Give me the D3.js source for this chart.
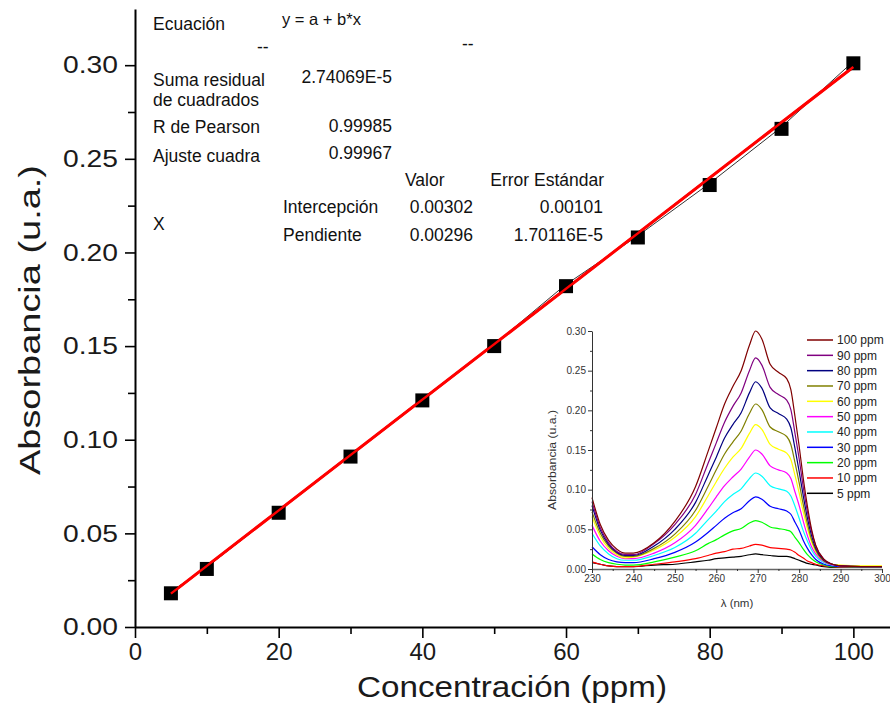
<!DOCTYPE html>
<html><head><meta charset="utf-8">
<script src="https://cdn.jsdelivr.net/npm/d3@7"></script>
<style>
html,body{margin:0;padding:0;background:#fff;}
svg{display:block;font-family:"Liberation Sans",Arial,sans-serif;}
</style></head>
<body>
<svg id="c" width="890" height="710"></svg>
<script>
// ---------- Main calibration data ----------
const concentrations = [5, 10, 20, 30, 40, 50, 60, 70, 80, 90, 100];
const absorbances = [0.018, 0.031, 0.061, 0.091, 0.121, 0.150, 0.182, 0.208, 0.236, 0.266, 0.301];
const fitIntercept = 0.00302;
const fitSlope = 0.00296;
const mainXTicks = [0, 20, 40, 60, 80, 100];
const mainXMinor = [10, 30, 50, 70, 90];
const mainYTicks = [0, 0.05, 0.10, 0.15, 0.20, 0.25, 0.30];
const mainYMinor = [0.025, 0.075, 0.125, 0.175, 0.225, 0.275];

// ---------- Stats table ----------
const statsLeft = [["Ecuación", 30], ["Suma residual", 86], ["de cuadrados", 106], ["R de Pearson", 133], ["Ajuste cuadra", 162], ["X", 230]];
const statsValues = [["2.74069E-5", 83], ["0.99985", 132], ["0.99967", 159]];
const paramNames = ["Intercepción", "Pendiente"];
const paramValues = ["0.00302", "0.00296"];
const paramErrors = ["0.00101", "1.70116E-5"];

// ---------- Inset spectra ----------
const wavelengths = [230,232,234,236,238,240,245,250,255,258,260,262,264,266,268,269.5,271,273,275,277,278,279,280,281,282,283,284,286,288,290,295,300];
const s100 = [0.090,0.056,0.036,0.025,0.020,0.020,0.033,0.060,0.104,0.148,0.178,0.208,0.230,0.250,0.282,0.300,0.290,0.258,0.248,0.240,0.226,0.192,0.155,0.114,0.079,0.050,0.030,0.012,0.006,0.004,0.003,0.003];
const s90  = [0.085,0.052,0.033,0.022,0.018,0.018,0.032,0.056,0.094,0.133,0.159,0.185,0.205,0.222,0.250,0.266,0.257,0.229,0.220,0.213,0.201,0.171,0.139,0.103,0.072,0.047,0.029,0.012,0.006,0.004,0.003,0.003];
const s80  = [0.080,0.049,0.031,0.021,0.017,0.017,0.029,0.050,0.084,0.118,0.141,0.165,0.182,0.197,0.222,0.236,0.228,0.203,0.196,0.189,0.178,0.152,0.123,0.092,0.064,0.042,0.026,0.011,0.006,0.004,0.003,0.003];
const s70  = [0.072,0.045,0.029,0.020,0.016,0.016,0.026,0.044,0.074,0.104,0.125,0.145,0.160,0.174,0.196,0.208,0.201,0.179,0.173,0.167,0.157,0.134,0.109,0.081,0.057,0.037,0.024,0.010,0.006,0.004,0.003,0.003];
const s60  = [0.066,0.041,0.026,0.018,0.014,0.015,0.024,0.040,0.066,0.092,0.110,0.127,0.141,0.152,0.171,0.182,0.176,0.157,0.151,0.146,0.138,0.118,0.096,0.072,0.051,0.034,0.022,0.010,0.006,0.005,0.004,0.004];
const s50  = [0.055,0.035,0.023,0.016,0.013,0.013,0.020,0.033,0.055,0.076,0.091,0.105,0.116,0.126,0.141,0.150,0.145,0.130,0.125,0.121,0.114,0.097,0.080,0.060,0.042,0.028,0.019,0.009,0.005,0.004,0.003,0.003];
const s40  = [0.045,0.029,0.019,0.013,0.011,0.011,0.017,0.027,0.045,0.062,0.073,0.085,0.094,0.101,0.114,0.121,0.117,0.105,0.101,0.098,0.092,0.079,0.064,0.048,0.035,0.024,0.016,0.008,0.005,0.004,0.003,0.003];
const s30  = [0.028,0.018,0.012,0.009,0.008,0.008,0.013,0.021,0.034,0.046,0.055,0.064,0.071,0.076,0.086,0.091,0.088,0.079,0.076,0.073,0.069,0.059,0.049,0.036,0.026,0.018,0.012,0.006,0.004,0.003,0.003,0.003];
const s20  = [0.019,0.012,0.008,0.006,0.005,0.005,0.009,0.015,0.023,0.032,0.037,0.043,0.048,0.051,0.058,0.061,0.059,0.053,0.051,0.049,0.047,0.040,0.033,0.025,0.018,0.013,0.009,0.005,0.003,0.003,0.002,0.002];
const s10  = [0.009,0.006,0.004,0.003,0.003,0.003,0.006,0.009,0.013,0.017,0.020,0.022,0.025,0.026,0.029,0.031,0.030,0.027,0.026,0.025,0.024,0.021,0.017,0.014,0.010,0.008,0.006,0.004,0.003,0.002,0.002,0.002];
const s5   = [0.008,0.006,0.004,0.003,0.003,0.003,0.005,0.006,0.009,0.011,0.013,0.014,0.015,0.016,0.018,0.019,0.018,0.017,0.016,0.016,0.015,0.013,0.011,0.009,0.007,0.006,0.005,0.003,0.002,0.002,0.002,0.002];
const seriesLabels = ["100 ppm","90 ppm","80 ppm","70 ppm","60 ppm","50 ppm","40 ppm","30 ppm","20 ppm","10 ppm","5 ppm"];
const seriesValues = [s100, s90, s80, s70, s60, s50, s40, s30, s20, s10, s5];
const seriesColors = ["#800000","#800080","#000080","#808000","#ffff00","#ff00ff","#00ffff","#0000ff","#00ff00","#ff0000","#000000"];
const insetXTicks = [230, 240, 250, 260, 270, 280, 290, 300];
const insetXMinor = [235, 245, 255, 265, 275, 285, 295];
const insetYTicks = [0, 0.05, 0.10, 0.15, 0.20, 0.25, 0.30];
const insetYMinor = [0.025, 0.075, 0.125, 0.175, 0.225, 0.275];

const svg = d3.select("#c");
const txt = "#1a1a1a";

// ===== Main chart =====
const x = d3.scaleLinear().domain([0, 105.1]).range([135, 890]);
const y = d3.scaleLinear().domain([0, 0.33]).range([627, 9]);

// y axis
const yAx = svg.append("g").attr("transform", "translate(135,0)")
  .call(d3.axisLeft(y).tickValues(mainYTicks).tickFormat(d3.format(".2f")).tickSize(10).tickSizeOuter(0));
yAx.select(".domain").attr("stroke", "#000").attr("stroke-width", 2);
yAx.selectAll(".tick line").attr("stroke", "#000").attr("stroke-width", 1.6);
yAx.selectAll(".tick text").attr("font-size", 24).attr("fill", txt).attr("x", -17)
  .attr("font-family", "Liberation Sans, Arial, sans-serif").attr("textLength", 55).attr("lengthAdjust", "spacingAndGlyphs");
svg.append("g").attr("transform", "translate(135,0)")
  .call(d3.axisLeft(y).tickValues(mainYMinor).tickFormat("").tickSize(7).tickSizeOuter(0))
  .call(g => { g.select(".domain").remove(); g.selectAll("line").attr("stroke", "#000").attr("stroke-width", 1.6); });

// x axis
const xAx = svg.append("g").attr("transform", "translate(0,627)")
  .call(d3.axisBottom(x).tickValues(mainXTicks).tickFormat(d3.format("d")).tickSize(11).tickSizeOuter(0));
xAx.select(".domain").attr("stroke", "#000").attr("stroke-width", 2);
xAx.selectAll(".tick line").attr("stroke", "#000").attr("stroke-width", 1.6);
xAx.selectAll(".tick text").attr("font-size", 24).attr("fill", txt).attr("y", 16)
  .attr("font-family", "Liberation Sans, Arial, sans-serif");
svg.append("g").attr("transform", "translate(0,627)")
  .call(d3.axisBottom(x).tickValues(mainXMinor).tickFormat("").tickSize(7).tickSizeOuter(0))
  .call(g => { g.select(".domain").remove(); g.selectAll("line").attr("stroke", "#000").attr("stroke-width", 1.6); });

// axis titles
svg.append("text").attr("x", 512).attr("y", 697).attr("text-anchor", "middle")
  .attr("font-size", 29).attr("fill", txt).attr("textLength", 310).attr("lengthAdjust", "spacingAndGlyphs")
  .text("Concentración (ppm)");
svg.append("text").attr("transform", "translate(40,320) rotate(-90)").attr("text-anchor", "middle")
  .attr("font-size", 29).attr("fill", txt).attr("textLength", 310).attr("lengthAdjust", "spacingAndGlyphs")
  .text("Absorbancia (u.a.)");

// data connecting line (thin black) under fit
const pts = concentrations.map((c, i) => [c, absorbances[i]]);
svg.append("path").datum(pts)
  .attr("d", d3.line().x(d => x(d[0]) - 1).y(d => y(d[1]) - 1))
  .attr("fill", "none").attr("stroke", "#333").attr("stroke-width", 1);

// fit line
const fitX = [concentrations[0], concentrations[concentrations.length - 1]];
svg.append("path").datum(fitX.map(c => [c, fitIntercept + fitSlope * c]))
  .attr("d", d3.line().x(d => x(d[0])).y(d => y(d[1])))
  .attr("stroke", "#ff0000").attr("stroke-width", 3).attr("fill", "none");

// markers
svg.append("g").selectAll("rect").data(pts).join("rect")
  .attr("x", d => x(d[0]) - 7).attr("y", d => y(d[1]) - 7)
  .attr("width", 14).attr("height", 14).attr("fill", "#000");

// red fit line over markers
svg.append("path").datum(fitX.map(c => [c, fitIntercept + fitSlope * c]))
  .attr("d", d3.line().x(d => x(d[0])).y(d => y(d[1])))
  .attr("stroke", "#ff0000").attr("stroke-width", 2.4).attr("fill", "none");

// ===== Stats table =====
const st = svg.append("g").attr("fill", "#111").attr("font-size", 17.5);
st.selectAll("text.l").data(statsLeft).join("text").attr("class", "l")
  .attr("x", 153).attr("y", d => d[1]).text(d => d[0]);
st.append("text").attr("x", 282).attr("y", 25).attr("font-size", 16.5).text("y = a + b*x");
st.append("text").attr("x", 257).attr("y", 53).text("--");
st.append("text").attr("x", 462).attr("y", 50).text("--");
st.selectAll("text.v").data(statsValues).join("text").attr("class", "v")
  .attr("x", 392).attr("y", d => d[1]).attr("text-anchor", "end").text(d => d[0]);
st.append("text").attr("x", 405).attr("y", 186).text("Valor");
st.append("text").attr("x", 604).attr("y", 186).attr("text-anchor", "end").text("Error Estándar");
st.selectAll("text.pn").data(paramNames).join("text").attr("class", "pn")
  .attr("x", 283).attr("y", (d, i) => 213 + i * 28).text(d => d);
st.selectAll("text.pv").data(paramValues).join("text").attr("class", "pv")
  .attr("x", 473).attr("y", (d, i) => 213 + i * 28).attr("text-anchor", "end").text(d => d);
st.selectAll("text.pe").data(paramErrors).join("text").attr("class", "pe")
  .attr("x", 603).attr("y", (d, i) => 213 + i * 28).attr("text-anchor", "end").text(d => d);

// ===== Inset =====
const ix = d3.scaleLinear().domain([230, 300]).range([592, 882]);
const iy = d3.scaleLinear().domain([0, 0.30]).range([569, 331]);
const ins = svg.append("g");

const line = d3.line().x((d, i) => ix(wavelengths[i])).y(d => iy(d)).curve(d3.curveMonotoneX);
const order = d3.range(seriesValues.length).reverse();
ins.selectAll("path.s").data(order).join("path").attr("class", "s")
  .attr("d", i => line(seriesValues[i]))
  .attr("fill", "none").attr("stroke", i => seriesColors[i]).attr("stroke-width", 1.2);

const iyAx = ins.append("g").attr("transform", "translate(592,0)")
  .call(d3.axisLeft(iy).tickValues(insetYTicks).tickFormat(d3.format(".2f")).tickSize(4).tickSizeOuter(0));
iyAx.selectAll(".tick text").attr("font-size", 10).attr("fill", "#333").attr("x", -6);
iyAx.selectAll("line,.domain").attr("stroke", "#333");
ins.append("g").attr("transform", "translate(592,0)")
  .call(d3.axisLeft(iy).tickValues(insetYMinor).tickFormat("").tickSize(2).tickSizeOuter(0))
  .call(g => { g.select(".domain").remove(); g.selectAll("line").attr("stroke", "#333"); });

const ixAx = ins.append("g").attr("transform", "translate(0,569)")
  .call(d3.axisBottom(ix).tickValues(insetXTicks).tickFormat(d3.format("d")).tickSize(4).tickSizeOuter(0));
ixAx.selectAll(".tick text").attr("font-size", 10).attr("fill", "#333").attr("y", 6);
ixAx.selectAll("line").attr("stroke", "#333");
ixAx.select(".domain").attr("stroke", "#666").attr("stroke-width", 1.6);
ins.append("g").attr("transform", "translate(0,569)")
  .call(d3.axisBottom(ix).tickValues(insetXMinor).tickFormat("").tickSize(2).tickSizeOuter(0))
  .call(g => { g.select(".domain").remove(); g.selectAll("line").attr("stroke", "#333"); });

ins.append("text").attr("x", 737).attr("y", 607).attr("text-anchor", "middle")
  .attr("font-size", 11.5).attr("fill", "#333").text("λ (nm)");
ins.append("text").attr("transform", "translate(556,460) rotate(-90)").attr("text-anchor", "middle")
  .attr("font-size", 11.5).attr("fill", "#333").attr("textLength", 100).attr("lengthAdjust", "spacingAndGlyphs")
  .text("Absorbancia (u.a.)");

// legend
const leg = ins.append("g");
seriesLabels.forEach((lab, i) => {
  const yy = 340 + i * 15.33;
  leg.append("line").attr("x1", 807).attr("x2", 833).attr("y1", yy).attr("y2", yy)
    .attr("stroke", seriesColors[i]).attr("stroke-width", 1.5);
  leg.append("text").attr("x", 837).attr("y", yy).attr("dy", "0.35em")
    .attr("font-size", 12).attr("fill", "#222").text(lab);
});
</script>
</body></html>
